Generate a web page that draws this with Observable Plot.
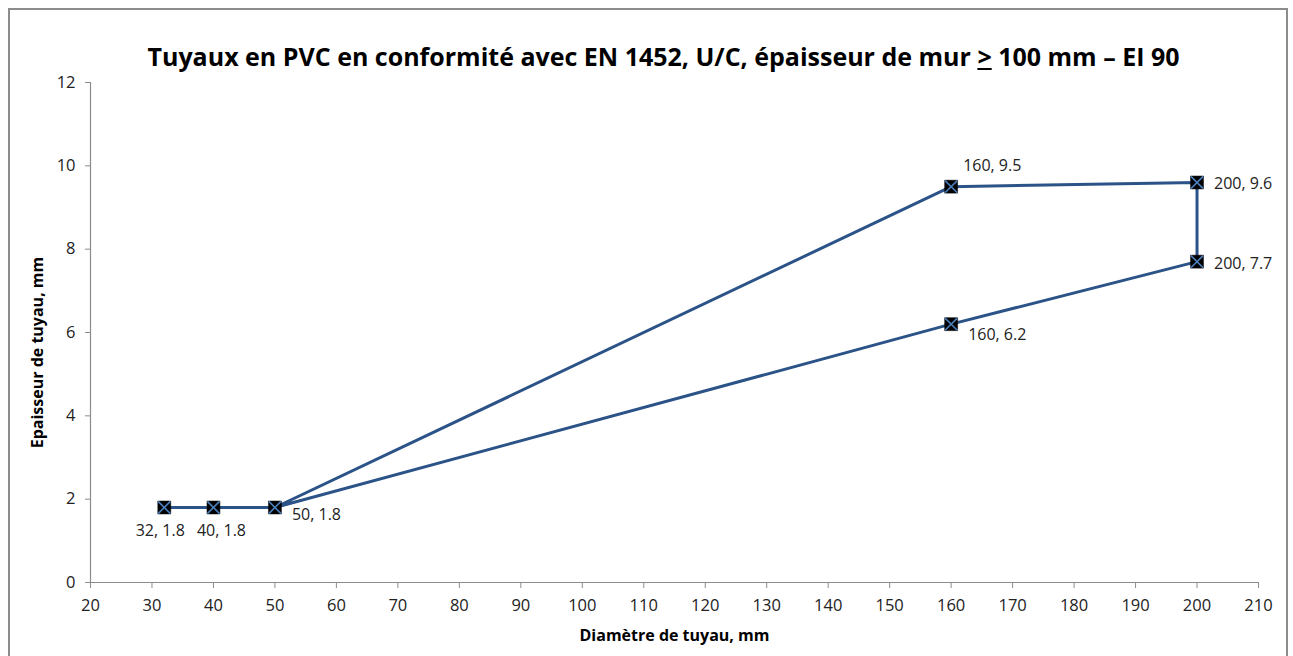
<!DOCTYPE html>
<html>
<head>
<meta charset="utf-8">
<script src="https://cdn.jsdelivr.net/npm/d3@7"></script>
<script src="https://cdn.jsdelivr.net/npm/@observablehq/plot@0.6"></script>
<style>
  html, body { margin: 0; padding: 0; background: #fff; }
  body { width: 1293px; height: 656px; position: relative; overflow: hidden; font-family: "Open Sans", sans-serif; }
  #frame { position: absolute; left: 8px; top: 8px; width: 1276px; height: 700px; border: 2px solid #8c8c8c; }
  #title { position: absolute; top: 39px; left: 0; width: 1293px; padding-left: 34px; box-sizing: border-box; text-align: center; font-weight: bold; font-size: 25px; line-height: 34px; color: #000; white-space: nowrap; letter-spacing: 0px; }
  #chart { position: absolute; left: 0; top: 55px; }
</style>
</head>
<body>
<div id="frame"></div>
<div id="title">Tuyaux en PVC en conformité avec EN 1452, U/C, épaisseur de mur <u>&gt;</u> 100 mm – EI 90</div>
<div id="chart"></div>
<script>
// Data (path order as drawn)
const diametre = [32, 40, 50, 160, 200, 200, 160, 50];
const epaisseur = [1.8, 1.8, 1.8, 9.5, 9.6, 7.7, 6.2, 1.8];
const pointLabels = ["32, 1.8", "40, 1.8", "50, 1.8", "160, 9.5", "200, 9.6", "200, 7.7", "160, 6.2"];
const xTicks = [20, 30, 40, 50, 60, 70, 80, 90, 100, 110, 120, 130, 140, 150, 160, 170, 180, 190, 200, 210];
const yTicks = [0, 2, 4, 6, 8, 10, 12];
const xTitle = "Diamètre de tuyau, mm";
const yTitle = "Epaisseur de tuyau, mm";

const path = diametre.map((d, i) => ({x: d, y: epaisseur[i]}));
const pts = pointLabels.map((t, i) => ({x: diametre[i], y: epaisseur[i], label: t}));

// label placement (style, by point index)
const place = [
  {dx: -4, dy: 23, anchor: "middle"},
  {dx: 8, dy: 23, anchor: "middle"},
  {dx: 17, dy: 7, anchor: "start"},
  {dx: 12, dy: -21, anchor: "start"},
  {dx: 17, dy: 1, anchor: "start"},
  {dx: 17, dy: 2, anchor: "start"},
  {dx: 17, dy: 11, anchor: "start"}
];

const lineColor = "#2b5388";
const axisColor = "#8c8c8c";
const fs = 16.5;

const labelMarks = pts.map((p, i) => Plot.text([p], {
  x: "x", y: "y", text: "label",
  dx: place[i].dx, dy: place[i].dy, textAnchor: place[i].anchor,
  fontSize: 16, fill: "#222"
}));

const chart = Plot.plot({
  width: 1293,
  height: 601,
  marginLeft: 90,
  marginRight: 35,
  marginTop: 27,
  marginBottom: 74,
  style: {fontFamily: "'Open Sans', sans-serif", fontSize: fs + "px", color: "#222", background: "transparent"},
  x: {domain: [20, 210], ticks: xTicks, label: null},
  y: {domain: [0, 12], ticks: yTicks, label: null},
  marks: [
    Plot.axisX({ticks: xTicks, tickSize: 6, tickPadding: 11, stroke: axisColor, fontSize: fs, label: null}),
    Plot.axisY({ticks: yTicks, tickSize: 5, tickPadding: 10, stroke: axisColor, fontSize: fs, label: null}),
    Plot.ruleY([0], {stroke: axisColor, strokeWidth: 1.2}),
    Plot.ruleX([20], {stroke: axisColor, strokeWidth: 1.2}),
    Plot.line(path, {x: "x", y: "y", stroke: lineColor, strokeWidth: 3, curve: "linear"}),
    Plot.dot(pts, {x: "x", y: "y", symbol: "square", r: 7.3, fill: "#000", stroke: "#000", strokeWidth: 0.5}),
    Plot.dot(pts, {x: "x", y: "y", symbol: "times", r: 5.6, stroke: "#4a7ebb", strokeWidth: 1.6, fill: "none"}),
    ...labelMarks,
    // axis titles
    Plot.text([xTitle], {frameAnchor: "bottom", textAnchor: "middle", dy: 58, text: d => d, fontWeight: "bold", fontSize: 16, fill: "#000"}),
    Plot.text([yTitle], {frameAnchor: "left", textAnchor: "middle", dx: -53, dy: 20, rotate: -90, text: d => d, fontWeight: "bold", fontSize: 16, fill: "#000"})
  ]
});

document.getElementById("chart").appendChild(chart);
</script>
</body>
</html>
